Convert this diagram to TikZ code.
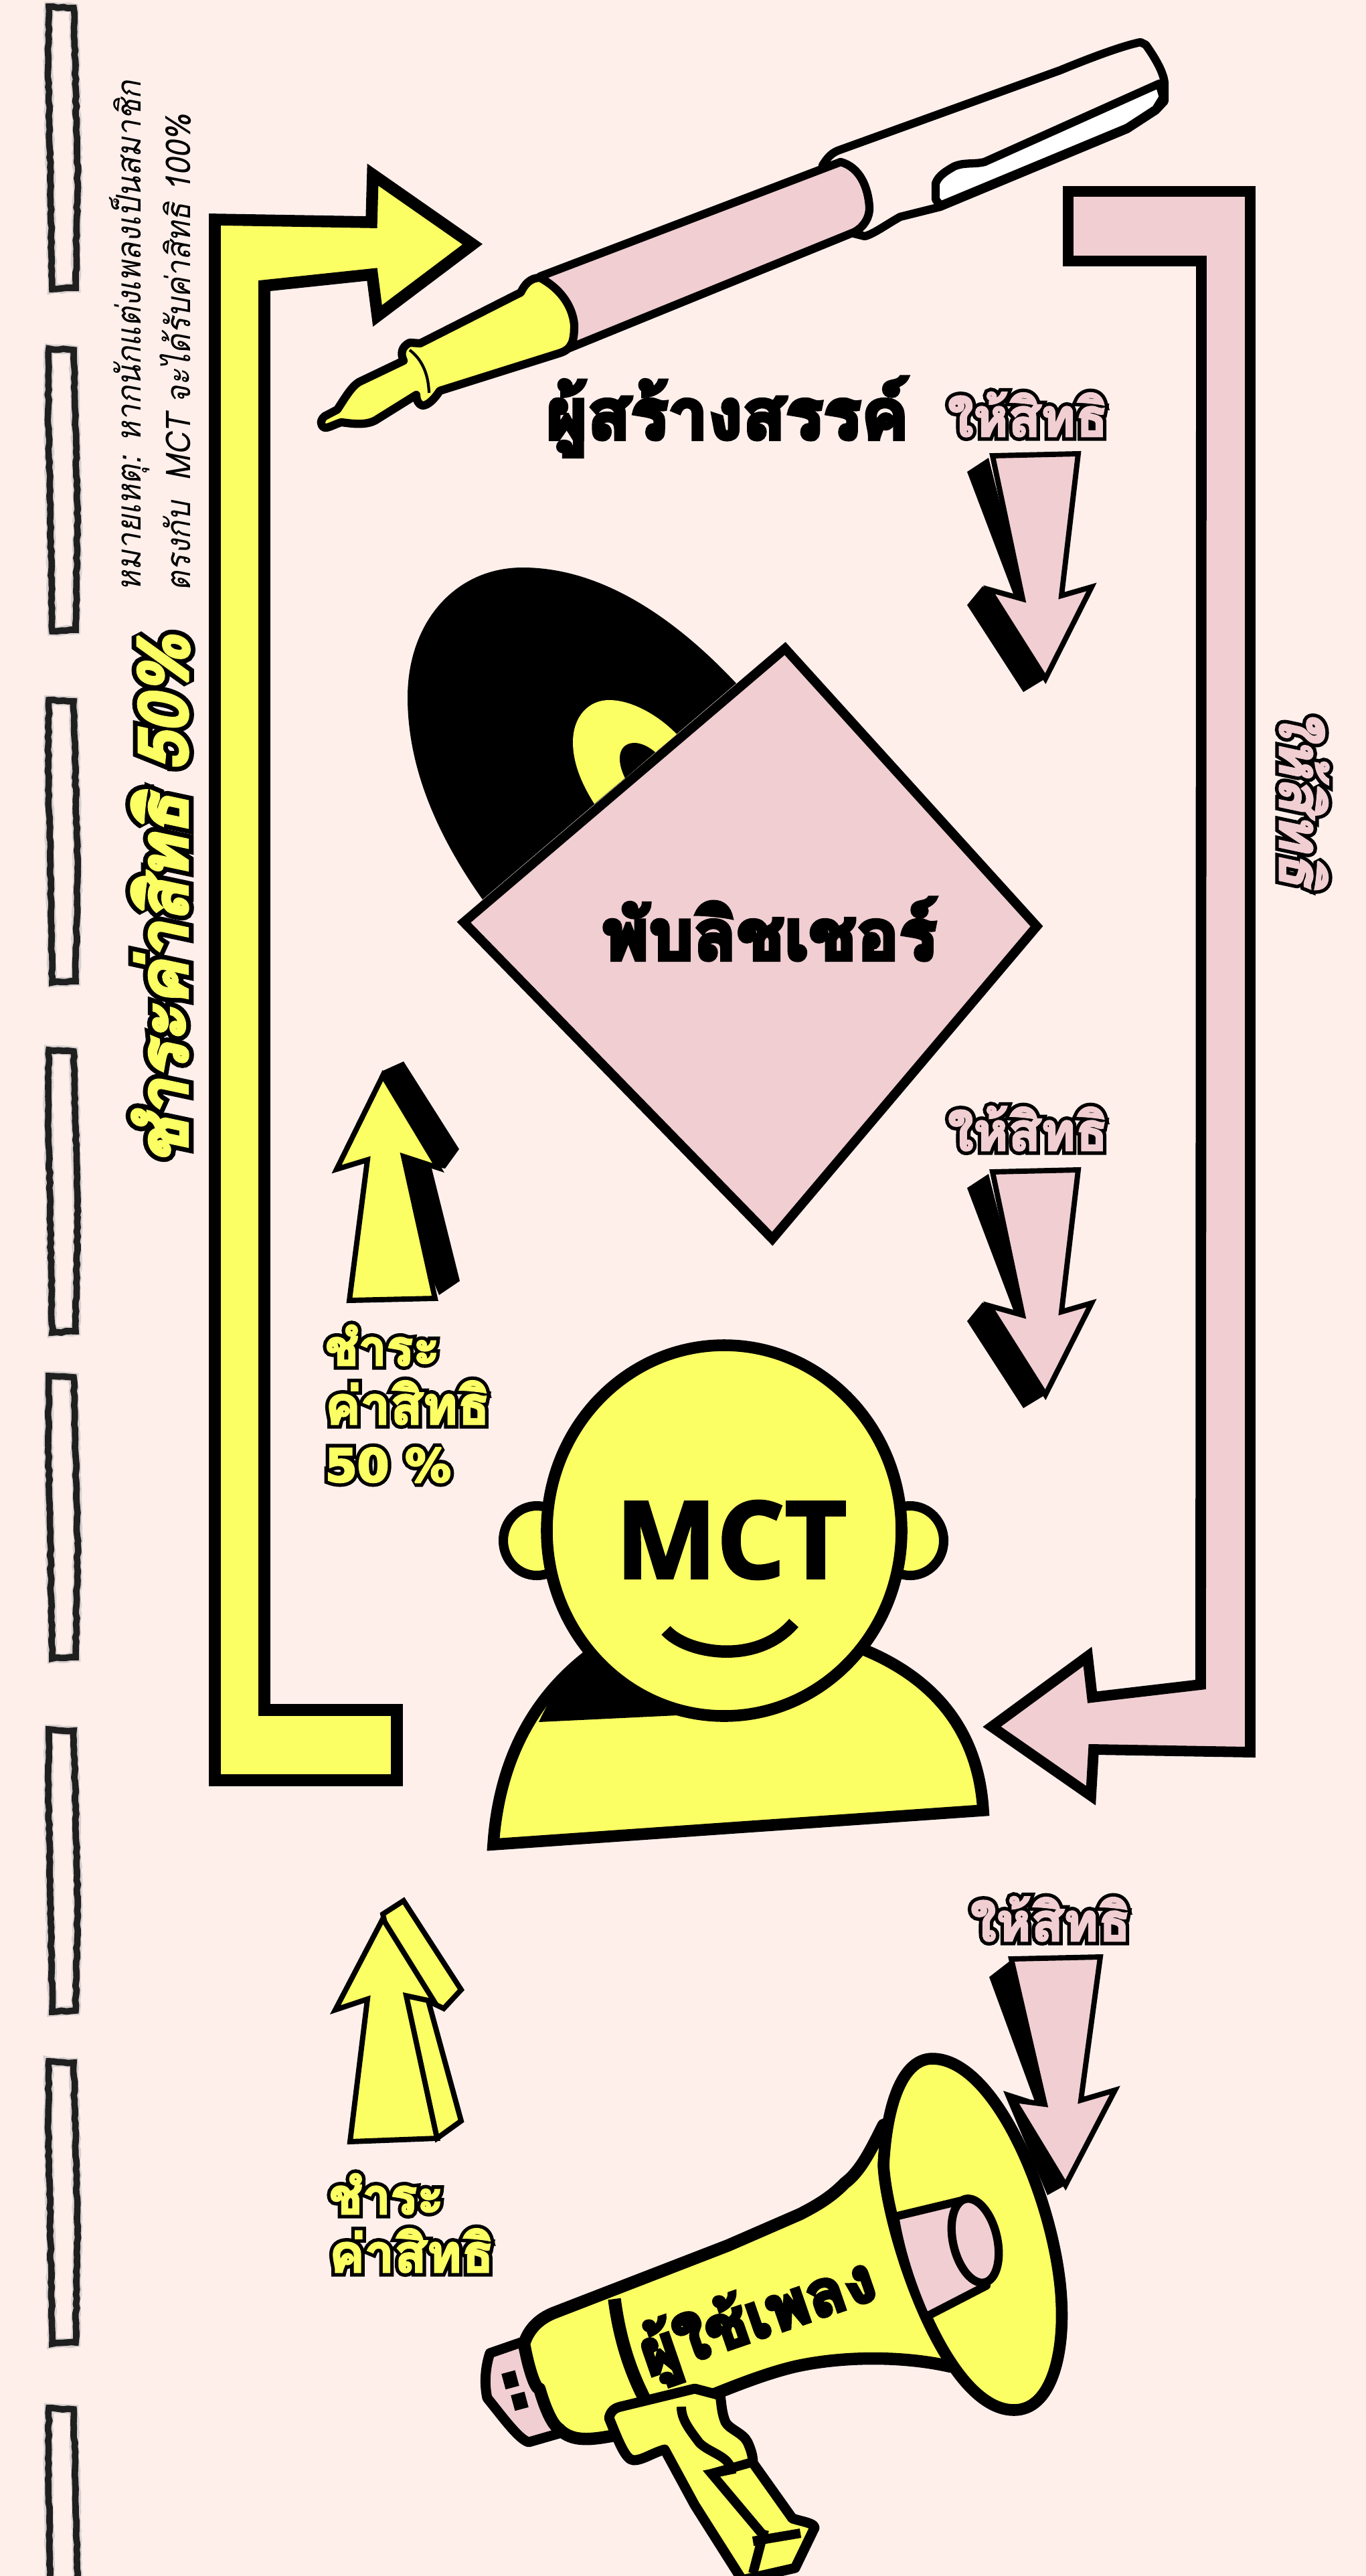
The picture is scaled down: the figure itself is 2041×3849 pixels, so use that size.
\documentclass[tikz,border=0pt]{standalone}
\usepackage{fontspec}
\usetikzlibrary{decorations.pathmorphing}
\setmainfont{Open Sans}
\newfontfamily\thai[Script=Thai]{Loma}
\newfontfamily\thain[Script=Thai,FakeStretch=0.9]{Loma}
\newfontfamily\nsans{Open Sans}
\newfontfamily\dvs{DejaVu Sans}
\definecolor{bgc}{HTML}{FEEFEB}
\definecolor{yel}{HTML}{FBFF63}
\definecolor{pnk}{HTML}{F0CED2}
\newcommand{\stk}[2]{\special{pdf:code 2 Tr #1 w 2 M 0 0 0 RG}#2\special{pdf:code 0 Tr}}
% outlined lettering: wide black stroke beneath, thickened coloured letter above
\newcommand{\outl}[4]{\rlap{\special{pdf:code 2 Tr #1 w 2 M 0 0 0 RG}#4\special{pdf:code 0 Tr}}\special{pdf:code 2 Tr #2 w #3 RG}#4\special{pdf:code 0 Tr}}
\def\RGy{0.984 1 0.388}
\def\RGp{0.941 0.808 0.824}
\newcommand{\fs}[1]{\fontsize{#1}{#1}\selectfont}
\tikzset{
  bigl/.style={draw=black,line width=10pt,miter limit=10},
  shape8/.style={draw=black,line width=8.5pt,line join=round},
  pen6/.style={draw=black,line width=7pt,line join=round},
  arr/.style={draw=black,line width=4.5pt,miter limit=10},
  txt/.style={inner sep=0pt,outer sep=0pt},
  dashmark/.style={decorate,decoration={random steps,segment length=4pt,amplitude=.6pt}}
}
\newcommand{\pinkarrow}[1]{%
  \begin{scope}[shift={(0,#1)}]
    \fill[black] (1445,705) -- (1477,684) -- (1531,898) -- (1468,876) -- (1445,904) -- (1529,1034) -- (1562,1014) -- cycle;
    \path[arr,fill=pnk] (1483,681) -- (1611,678) -- (1586,890) -- (1631,877) -- (1562,1014) -- (1478,881) -- (1528,895) -- cycle;
  \end{scope}}
\newcommand{\dashm}[1]{%
  \begin{scope}[shift={(0,#1)}]
    \draw[black!30,opacity=.5,line width=8pt,dashmark] (73,10) -- (110,12) -- (113,130) -- (116,260) -- (113,430) -- (78,432) -- (75,250) -- (72,100) -- cycle;
    \draw[black!88,line width=5.5pt,dashmark] (73,10) -- (110,12) -- (113,130) -- (116,260) -- (113,430) -- (78,432) -- (75,250) -- (72,100) -- cycle;
  \end{scope}}
\begin{document}
\begin{tikzpicture}[x=0.02cm,y=-0.02cm]
\useasboundingbox (0,0) rectangle (2041,3849);
\fill[bgc] (0,0) rectangle (2041,3849);
\pgfmathsetseed{7}
\foreach \d in {0,511,1036,1559,2046,2574,3070,3588} {\dashm{\d}}

% big arrows
\path[bigl,fill=yel] (321,328) -- (555,332) -- (557,261) -- (706,365) -- (564,472) -- (556,410) -- (395,427) -- (395,2555) -- (593,2555) -- (593,2660) -- (321,2660) -- cycle;
\path[bigl,line width=9pt,fill=pnk] (1596,286) -- (1868,286) -- (1868,2618) -- (1634,2614) -- (1630,2683) -- (1482,2580) -- (1625,2475) -- (1632,2536) -- (1794,2517) -- (1795,390) -- (1596,390) -- cycle;

% pen
\path[pen6,fill=bgc] (1229,247) .. controls (1235,238) and (1240,230) .. (1252,225) -- (1584,105) .. controls (1640,82) and (1680,68) .. (1704,63) -- (1712,67) .. controls (1725,85) and (1740,110) .. (1740,126) -- (1740,151) -- (1727,165) -- (1684,193) -- (1405,309) -- (1345,324) .. controls (1325,335) and (1305,350) .. (1292,353) -- (1276,349) -- cycle;
\path[pen6,fill=white] (1398,298) -- (1398,274) .. controls (1402,262) and (1415,255) .. (1425,249) .. controls (1440,242) and (1455,246) .. (1471,242) -- (1732,125) -- (1738,145) -- (1727,163) -- (1684,191) -- (1405,307) -- cycle;
\path[pen6,fill=pnk] (807,413) -- (1256,242) .. controls (1285,250) and (1297,280) .. (1299,309) .. controls (1300,325) and (1290,340) .. (1276,347) -- (851,520) -- cycle;
\path[pen6,fill=yel] (612,512) -- (628,513) -- (778,437) .. controls (784,425) and (792,415) .. (807,415) .. controls (835,430) and (855,455) .. (858,485) .. controls (858,510) and (855,522) .. (835,528) -- (657,584) .. controls (650,595) and (640,606) .. (631,606) .. controls (625,604) and (622,598) .. (622,590) -- (561,628) .. controls (545,637) and (520,632) .. (510,631) .. controls (500,634) and (490,640) .. (485,639) .. controls (478,636) and (478,628) .. (485,622) -- (504,612) .. controls (515,595) and (525,578) .. (536,571) -- (603,539) .. controls (598,528) and (600,518) .. (612,512) -- cycle;
\draw[black,line width=2.4pt] (612,523) .. controls (628,535) and (640,555) .. (641,587);

% vinyl
\fill[black] (721,1344) .. controls (640,1230) and (609,1130) .. (609,1042) .. controls (609,930) and (680,848) .. (781,848) .. controls (900,848) and (1010,925) .. (1100,1021) -- cycle;
\fill[yel] (888,1201) .. controls (865,1165) and (856,1135) .. (856,1109) .. controls (856,1070) and (880,1046) .. (910,1046) .. controls (945,1046) and (985,1070) .. (1011,1097) -- cycle;
\fill[black] (934,1163) .. controls (928,1150) and (926,1142) .. (926,1133) .. controls (926,1118) and (935,1110) .. (948,1110) .. controls (958,1110) and (970,1116) .. (979,1124) -- cycle;
\path[draw=black,line width=8pt,miter limit=10,fill=pnk] (1173,969) -- (1549,1384) -- (1154,1851) -- (693,1378) -- cycle;

\pinkarrow{0}
\pinkarrow{1070}

% yellow up arrow, black shadow
\fill[black] (572,1600) -- (603,1586) -- (686,1717) -- (665,1746) -- (644,1742) -- (687,1914) -- (656,1935) -- (600,1800) -- cycle;
\path[arr,fill=yel] (572,1607) -- (655,1745) -- (603,1728) -- (650,1940) -- (522,1943) -- (549,1733) -- (503,1747) -- cycle;

% mct person
\path[draw=black,line width=10pt,miter limit=10,fill=yel] (737,2756) .. controls (745,2640) and (790,2540) .. (884,2470) -- (1291,2465) .. controls (1400,2510) and (1462,2590) .. (1469,2705) -- cycle;
\fill[black] (805,2573) -- (1012,2563) -- (1050,2440) -- (884,2470) .. controls (850,2495) and (825,2530) .. (805,2573) -- cycle;
\draw[black,line width=8pt,fill=yel] (802,2302) ellipse [x radius=50,y radius=52];
\draw[black,line width=8pt,fill=yel] (1360,2302) ellipse [x radius=50,y radius=52];
\draw[black,line width=10pt,fill=yel] (1082,2287) ellipse [x radius=265,y radius=277];
\draw[black,line width=10.5pt] (995,2436) .. controls (1025,2470) and (1130,2490) .. (1186,2425);

% yellow lower arrow
\path[arr,fill=yel] (572,2860) -- (603,2840) -- (689,2973) -- (663,3001) -- (640,2990) -- (689,3169) -- (653,3195) -- cycle;
\path[arr,fill=yel] (572,2867) -- (649,2991) -- (607,2982) -- (653,3195) -- (523,3200) -- (549,2987) -- (501,3003) -- cycle;

% arrow 3 shadow
\fill[black] (1478,2954) -- (1509,2930) -- (1561,3144) -- (1499,3124) -- (1565,3280) -- (1592,3265) -- cycle;

% megaphone
\path[shape8,fill=pnk] (732,3516) -- (781,3499) -- (835,3636) -- (790,3649) .. controls (775,3645) and (750,3610) .. (728,3583) .. controls (724,3565) and (724,3540) .. (732,3516) -- cycle;
\fill[black,rotate around={15:(762,3556)}] (752,3544) rectangle (773,3568);
\fill[black,rotate around={15:(776,3588)}] (766,3576) rectangle (787,3600);
\path[shape8,line width=10.5pt,fill=yel] (1345,3170) -- (1320,3175) .. controls (1300,3215) and (1285,3245) .. (1262,3262) .. controls (1240,3285) and (1215,3298) .. (1196,3308) -- (1088,3355) -- (827,3456) .. controls (805,3465) and (790,3480) .. (783,3502) .. controls (790,3540) and (800,3570) .. (806,3569) .. controls (815,3600) and (825,3622) .. (835,3629) .. controls (855,3650) and (885,3645) .. (918,3639) -- (1063,3579) .. controls (1110,3560) and (1150,3545) .. (1188,3536) .. controls (1260,3520) and (1350,3520) .. (1420,3536) -- (1450,3500) -- cycle;
\draw[black,line width=11pt] (918,3435) .. controls (925,3490) and (940,3540) .. (964,3586);
\path[draw=black,line width=10pt,fill=yel] (1393,3076) .. controls (1350,3076) and (1325,3140) .. (1320,3235) .. controls (1325,3330) and (1410,3601) .. (1515,3601) .. controls (1570,3601) and (1590,3520) .. (1586,3440) .. controls (1580,3300) and (1490,3076) .. (1393,3076) -- cycle;
\path[shape8,line width=7pt,fill=pnk] (1337,3312) -- (1441,3287) -- (1474,3415) -- (1383,3462) .. controls (1360,3410) and (1345,3360) .. (1337,3312) -- cycle;
\draw[black,line width=7pt,fill=pnk,rotate around={-77:(1457,3348)}] (1457,3348) ellipse [x radius=64,y radius=33];

% handle
\path[shape8,fill=yel] (910,3613) .. controls (912,3603) and (918,3598) .. (927,3596) -- (1038,3569) -- (1076,3579) .. controls (1078,3590) and (1078,3605) .. (1084,3619) .. controls (1090,3630) and (1110,3635) .. (1117,3649) .. controls (1122,3660) and (1125,3670) .. (1125,3680) -- (1184,3763) .. controls (1200,3768) and (1217,3770) .. (1217,3777) -- (1188,3837) -- (1109,3855) -- (1038,3743) -- (993,3660) .. controls (975,3665) and (960,3676) .. (947,3676) .. controls (935,3676) and (925,3650) .. (910,3613) -- cycle;
\draw[black,line width=8pt] (1018,3596) .. controls (1018,3615) and (1030,3630) .. (1045,3650) .. controls (1060,3665) and (1090,3670) .. (1092,3690) -- (1063,3696) -- (1142,3790);
\draw[black,line width=8pt] (1063,3696) -- (1120,3680);
\draw[black,line width=8pt] (1125,3797) -- (1196,3785);
\draw[black,line width=8pt] (1142,3780) -- (1125,3845);

% arrow 3
\path[arr,fill=pnk] (1511,2927) -- (1644,2924) -- (1615,3138) -- (1666,3123) -- (1592,3265) -- (1515,3138) -- (1561,3144) -- cycle;

% text
\thain
\node[txt,anchor=base west,rotate=90] (note1) at (210,883) {\fs{29}\itshape หมายเหตุ: หากนักแต่งเพลงเป็นสมาชิก};
\node[txt,anchor=base west,rotate=90] (note2) at (284,883) {\fs{29}\itshape ตรงกับ\ \ MCT จะได้รับค่าสิทธิ 100\%};
\thai
\node[txt,anchor=base west,rotate=90,text=yel] (pay50big) at (280,1739) {\fs{58}\bfseries\itshape\outl{10.5}{2.5}{\RGy}{ชำระค่าสิทธิ 50\%}};
\node[txt,anchor=base west,rotate=-90,text=pnk] (giveside) at (1912,1059) {\fs{50}\bfseries\itshape\outl{7.5}{1.5}{\RGp}{ให้สิทธิ}};
\node[txt,anchor=base west] (creator) at (816,656) {\fs{60}\bfseries\stk{3.5}{ผู้สร้างสรรค์}};
\node[txt,anchor=base west] (publisher) at (900,1434) {\fs{60}\bfseries\stk{3.5}{พับลิชเชอร์}};
\node[txt,anchor=base west,text=pnk] (give1) at (1416,652) {\fs{45}\bfseries\outl{7.5}{1.5}{\RGp}{ให้สิทธิ}};
\node[txt,anchor=base west,text=pnk] (give2) at (1416,1719) {\fs{45}\bfseries\outl{7.5}{1.5}{\RGp}{ให้สิทธิ}};
\node[txt,anchor=base west,text=pnk] (give3) at (1450,2900) {\fs{45}\bfseries\outl{7.5}{1.5}{\RGp}{ให้สิทธิ}};
\node[txt,anchor=base west,text=yel] (payA) at (486,2040) {\fs{42}\bfseries\outl{7.5}{1.5}{\RGy}{ชำระ}};
\node[txt,anchor=base west,text=yel] (payB) at (486,2128) {\fs{45}\bfseries\outl{7.5}{1.5}{\RGy}{ค่าสิทธิ}};
\node[txt,anchor=base west,text=yel] (payC) at (486,2214) {\fs{39}\dvs\bfseries\outl{7.5}{1.5}{\RGy}{50 \%}};
\node[txt,anchor=base west,text=yel] (payD) at (492,3308) {\fs{42}\bfseries\outl{7.5}{1.5}{\RGy}{ชำระ}};
\node[txt,anchor=base west,text=yel] (payE) at (492,3395) {\fs{45}\bfseries\outl{7.5}{1.5}{\RGy}{ค่าสิทธิ}};
\node[txt,anchor=base,rotate=19] (user) at (1142,3492) {\fs{54}\bfseries\stk{3}{ผู้ใช้เพลง}};
\node[txt,anchor=base west] (mct) at (920,2358) {\fs{91}\nsans\bfseries\stk{2}{MCT}};
\end{tikzpicture}
\end{document}
